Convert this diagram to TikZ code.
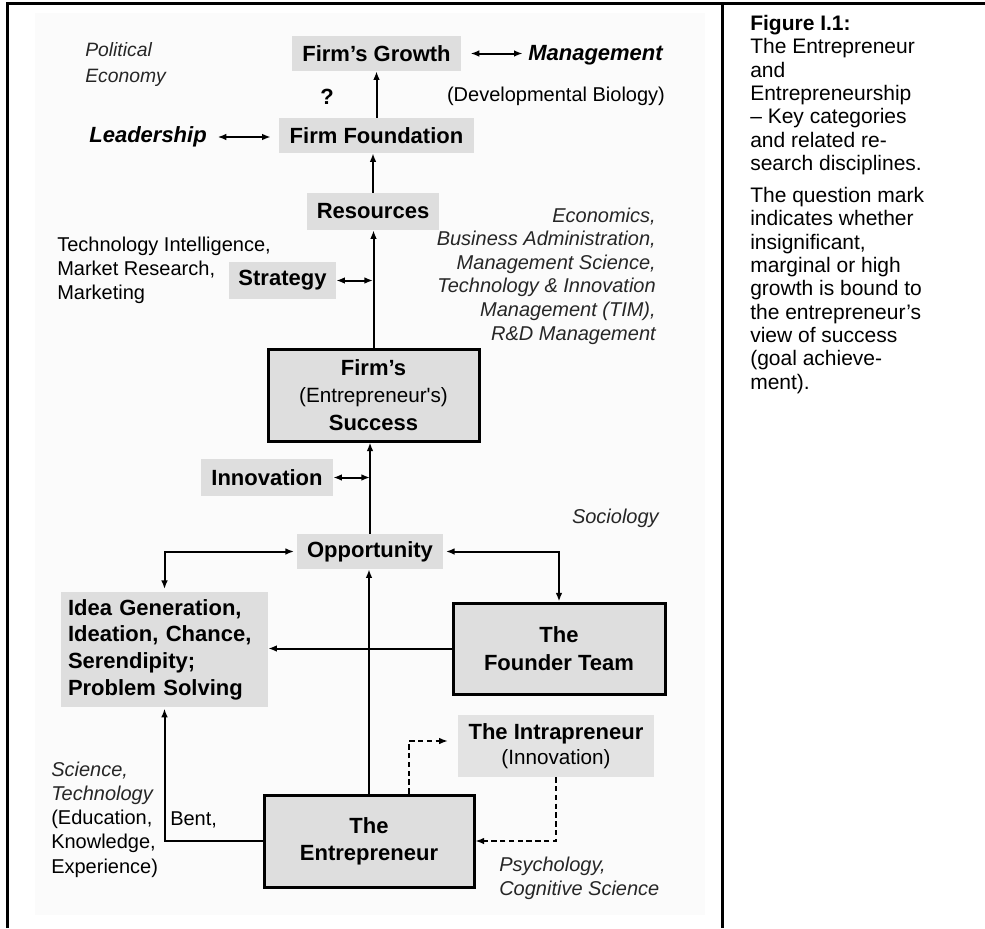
\documentclass[tikz,border=0pt]{standalone}
\usepackage{fontspec}
\newfontfamily\arial{Liberation Sans}
\usetikzlibrary{arrows.meta,calc}
\definecolor{boxgray}{gray}{0.87}
\definecolor{lightbox}{gray}{0.89}
\definecolor{bggray}{gray}{0.986}
\begin{document}
\begin{tikzpicture}[x=0.75pt,y=-0.75pt,
  sz/.style 2 args={minimum width=#1*0.75pt, minimum height=#2*0.75pt},
  lbl/.style={inner sep=0pt, align=center, font=\arial\bfseries\fontsize{16.5}{19.5}\selectfont},
  gbox/.style={lbl, fill=boxgray},
  tbox/.style={lbl, fill=boxgray, draw=black, line width=2.25pt},
  txt/.style={inner sep=0pt, font=\arial\fontsize{15}{18}\selectfont},
  itx/.style={txt, font=\arial\itshape\fontsize{15}{18}\selectfont, text=black!85},
  bix/.style={inner sep=0pt, font=\arial\bfseries\itshape\fontsize{16.5}{19.5}\selectfont},
  capbox/.style={inner sep=0pt, anchor=north west, align=left, font=\arial\fontsize{15.75}{17.5}\selectfont},
  con/.style={line width=1.5pt},
  arr/.style={con, -{Latex[length=6.5pt,width=5pt]}},
  dbl/.style={con, {Latex[length=6.5pt,width=5pt]}-{Latex[length=6.5pt,width=5pt]}},
  dsh/.style={arr, line width=1.1pt, dash pattern=on 4pt off 2.6pt}
]
\useasboundingbox (0,0) rectangle (985,928);
% light background and frame
\fill[bggray] (35,13) rectangle (705,915);
\draw[line width=2.25pt] (7,928) -- (7,3) -- (985,3);
\draw[line width=2.25pt] (722,3) -- (722,928);

% main nodes
\node[gbox, sz={169}{35}] (fg) at (376.5,53.5) {Firm’s Growth};
\node[gbox, sz={195}{35}] (ff) at (376.5,135.5) {Firm Foundation};
\node[gbox, sz={132}{37}] (res) at (373,211.5) {Resources};
\node[gbox, sz={107}{37}] (strat) at (282.5,280.5) {Strategy};
\node[tbox, sz={211}{92}, font=\arial\bfseries\fontsize{16.5}{20.5}\selectfont] (succ) at (373.5,395) {Firm’s\\{\mdseries\fontsize{15.5}{20.5}\selectfont (Entrepreneur's)}\\Success};
\node[gbox, sz={132}{37}] (innov) at (267,477.5) {Innovation};
\node[gbox, sz={146}{35}] (opp) at (370,551.5) {Opportunity};
\node[gbox, minimum height=115*0.75pt, text width=193*0.75pt, inner xsep=7*0.75pt, align=left, font=\arial\bfseries\fontsize{16.5}{20}\selectfont] (idea) at (164.5,649.5) {Idea Generation,\\Ideation, Chance,\\Serendipity;\\Problem Solving};
\node[tbox, sz={212}{91}, font=\arial\bfseries\fontsize{16.5}{20.5}\selectfont] (found) at (559,648.5) {The\\Founder Team};
\node[gbox, fill=lightbox, sz={196}{62}, font=\arial\bfseries\fontsize{16.5}{19}\selectfont] (intra) at (556,746) {The Intrapreneur\\{\mdseries\fontsize{15.5}{19}\selectfont (Innovation)}};
\node[tbox, sz={210}{92}, font=\arial\bfseries\fontsize{16.5}{20.5}\selectfont] (ent) at (369,841) {The\\Entrepreneur};

% side texts
\node[bix, anchor=west] (mgmt) at (528,55) {Management};
\node[bix, anchor=east] (lead) at (207,137) {Leadership};
\node[lbl] (q) at (327,97) {?};
\node[itx, anchor=west, align=left, font=\arial\itshape\fontsize{14.5}{19}\selectfont] (pol) at (85,64.5) {Political\\Economy};
\node[txt, anchor=center] (devbio) at (556,96) {(Developmental Biology)};
\node[txt, anchor=west, align=left] (techint) at (57,270) {Technology Intelligence,\\Market Research,\\Marketing};
\node[itx, anchor=east, align=right, font=\arial\itshape\fontsize{15}{17.7}\selectfont] (econ) at (656,276) {Economics,\\Business Administration,\\Management Science,\\Technology \& Innovation\\Management (TIM),\\R\&D Management};
\node[itx, anchor=east] (soc) at (659,518) {Sociology};
\node[txt, anchor=west, align=left, font=\arial\fontsize{15}{18.2}\selectfont] (sci) at (51,819.5) {{\itshape\color{black!85}Science,}\\{\itshape\color{black!85}Technology}\\(Education,\\Knowledge,\\Experience)};
\node[txt, anchor=west] (bent) at (170,820) {Bent,};
\node[itx, anchor=west, align=left] (psy) at (499,878) {Psychology,\\Cognitive Science};

% caption column
\node[capbox] (cap1) at (750,15) {\textbf{Figure I.1:}\\The Entrepreneur\\and\\Entrepreneurship\\– Key categories\\and related re-\\search disciplines.};
\node[capbox] (cap2) at (750,187) {The question mark\\indicates whether\\insignificant,\\marginal or high\\growth is bound to\\the entrepreneur’s\\view of success\\(goal achieve-\\ment).};

% connectors
\draw[arr] (ff.north) -- (ff.north |- fg.south);
\draw[arr] (res.north) -- (res.north |- ff.south);
\draw[arr] (succ.north) -- (succ.north |- res.south);
\draw[dbl] (strat.east) -- (strat.east -| res.south);
\draw[arr] (opp.north) -- (opp.north |- succ.south);
\draw[dbl] (innov.east) -- (innov.east -| opp.north);
\draw[arr] (ent.north) -- (ent.north |- opp.south);
\draw[dbl, shorten <=2pt, shorten >=2pt] (opp.west) -| (idea.north);
\draw[dbl, shorten <=2pt, shorten >=0pt] (opp.east) -| (found.north);
\draw[arr] (found.west) -- (found.west -| idea.east);
\draw[arr, shorten >=1pt] (ent.west) -| (idea.south);
\draw[dbl, shorten <=8pt, shorten >=6pt] (lead.east) -- (lead.east -| ff.west);
\draw[dbl, shorten <=7pt, shorten >=4pt] (fg.east) -- (fg.east -| mgmt.west);
\draw[dsh, shorten >=7.5pt] ($(ent.north)+(40,0)$) |- ($(intra.west)+(0,-5)$);
\draw[dsh] (intra.south) |- (ent.east);
\end{tikzpicture}
\end{document}
